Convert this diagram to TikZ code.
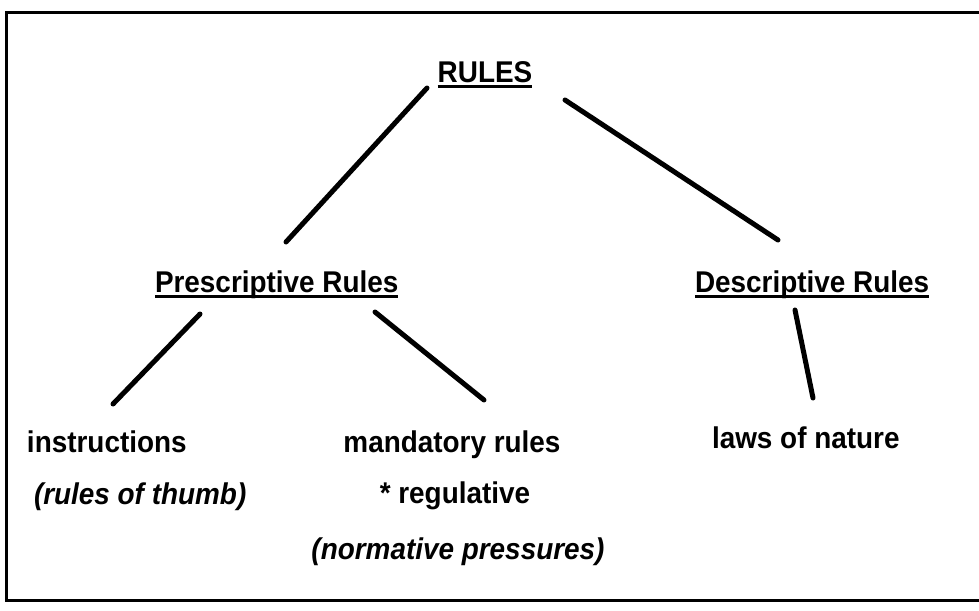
\documentclass[tikz,border=0pt]{standalone}
\usepackage{fontspec}
\setmainfont{Liberation Sans}
% slightly condensed face so the labels come out a bit taller
\newfontfamily\lblfont{Liberation Sans}[FakeStretch=0.93]
\begin{document}
\begin{tikzpicture}[x=1pt,y=-1pt,
  lbl/.style={inner sep=0pt,outer sep=0pt,font=\lblfont\fontsize{30}{34}\selectfont\bfseries},
  note/.style={lbl,font=\lblfont\fontsize{30}{34}\selectfont\bfseries\itshape},
  branch/.style={line width=5pt,line cap=round},
  frame/.style={line width=3pt},
  ul/.style={line width=2.5pt}]
\useasboundingbox (0,0) rectangle (979,610);

% open frame (no right edge)
\draw[frame] (979,13) -- (6,13) -- (6,600) -- (979,600);

% headings
\node[lbl,anchor=base] (rules) at (485,82) {RULES};
\node[lbl,anchor=base west] (pres) at (155,292) {Prescriptive Rules};
\node[lbl,anchor=base west] (desc) at (695,292) {Descriptive Rules};

% underlines
\foreach \n in {rules,pres,desc}
  \draw[ul] ([yshift=-4.5pt]\n.base west) -- ([yshift=-4.5pt]\n.base east);

% leaves
\node[lbl,anchor=base west] (instr) at (27,452) {instructions};
\node[note,anchor=base west] (thumb) at (34,504) {(rules of thumb)};
\node[lbl,anchor=base] (mand) at (452,452) {mandatory rules};
\node[lbl,anchor=base] (reg) at (455,503) {* regulative};
\node[note,anchor=base] (norm) at (458,559) {(normative pressures)};
\node[lbl,anchor=base west] (laws) at (712,448) {laws of nature};

% branch end points
\coordinate (r1) at (427,88);   \coordinate (p0) at (286,242);
\coordinate (r2) at (565,100);  \coordinate (d0) at (778,240);
\coordinate (p1) at (200,314);  \coordinate (i0) at (113,404);
\coordinate (p2) at (375,312);  \coordinate (m0) at (484,400);
\coordinate (d1) at (795,310);  \coordinate (l0) at (813,398);

\draw[branch] (r1) -- (p0);
\draw[branch] (r2) -- (d0);
\draw[branch] (p1) -- (i0);
\draw[branch] (p2) -- (m0);
\draw[branch] (d1) -- (l0);
\end{tikzpicture}
\end{document}
